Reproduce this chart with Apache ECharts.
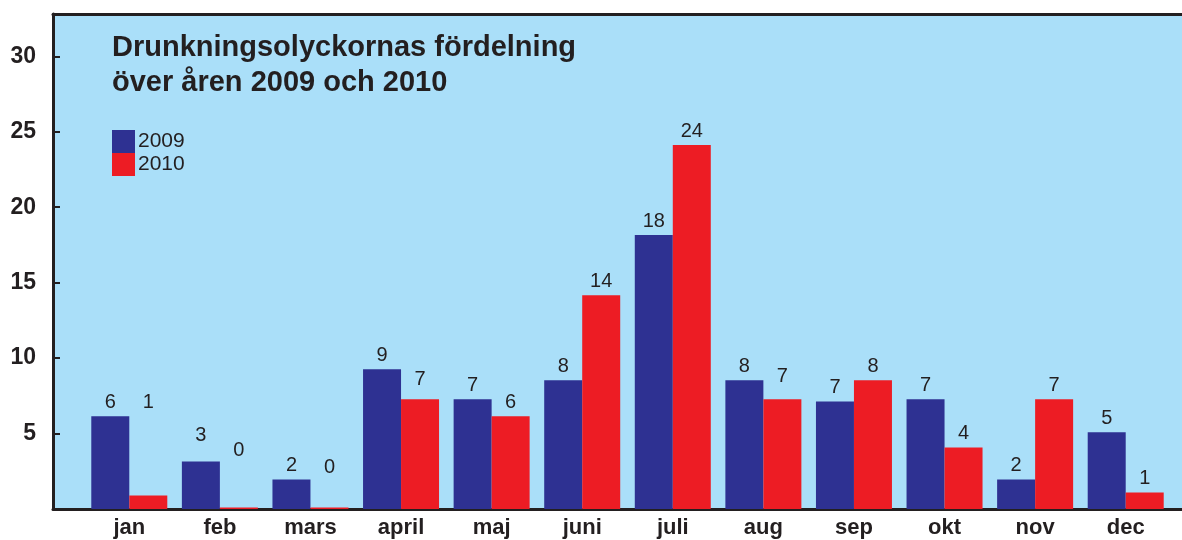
<!DOCTYPE html>
<html>
<head>
<meta charset="utf-8">
<script src="https://cdn.jsdelivr.net/npm/echarts@6/dist/echarts.min.js"></script>
<style>html,body{margin:0;padding:0;background:#fff}#c{width:1182px;height:540px}</style>
</head>
<body>
<div id="c"></div>
<script>
// ---- data ----
const months = ['jan','feb','mars','april','maj','juni','juli','aug','sep','okt','nov','dec'];
const labels2009 = [6, 3, 2, 9, 7, 8, 18, 8, 7, 7, 2, 5];
const labels2010 = [1, 0, 0, 7, 6, 14, 24, 7, 8, 4, 7, 1];
const bars2009 = [6.14, 3.15, 1.96, 9.26, 7.27, 8.53, 18.15, 8.53, 7.13, 7.27, 1.96, 5.08];
const bars2010 = [0.9, 0.1, 0.1, 7.27, 6.14, 14.17, 24.12, 7.27, 8.53, 4.08, 7.27, 1.09];
const yTicks = [5, 10, 15, 20, 25, 30];
const seriesNames = ['2009', '2010'];
const titleLines = ['Drunkningsolyckornas fördelning', 'över åren 2009 och 2010'];

// ---- styles ----
const INK = '#231f20';
const FONT = '"Liberation Sans", Arial, Helvetica, sans-serif';
const YMAX = 32.8;
const labelLift = { '2009': {1: 12}, '2010': {0: 79, 1: 43, 2: 26, 3: 6, 7: 9} };

function makeSeries(name, bars, labels, color) {
  return {
    name: name, type: 'bar', xAxisIndex: 1, yAxisIndex: 1,
    barWidth: 38, barGap: '0%',
    itemStyle: {color: color},
    data: bars.map(function (v, i) {
      const item = {value: v};
      const lift = (labelLift[name] || {})[i];
      if (lift) item.label = {offset: [0, -lift]};
      return item;
    }),
    label: {
      show: true, position: 'top', distance: 4, fontSize: 20, color: INK, fontFamily: FONT,
      formatter: function (p) { return String(labels[p.dataIndex]); }
    }
  };
}

const chart = echarts.init(document.getElementById('c'), null, {renderer: 'canvas'});
chart.setOption({
  animation: false,
  backgroundColor: '#ffffff',
  textStyle: {fontFamily: FONT},
  title: {
    text: titleLines.join('\n'), left: 107, top: 25,
    textStyle: {fontSize: 29, fontWeight: 'bold', color: INK, lineHeight: 35, fontFamily: FONT}
  },
  legend: {
    data: seriesNames, orient: 'vertical', left: 112, top: 130, padding: 0,
    itemWidth: 23, itemHeight: 23, itemGap: 0, icon: 'rect',
    textStyle: {fontSize: 21, color: INK, fontFamily: FONT, padding: [0, 0, 0, -2]}
  },
  grid: [
    {left: 53, right: 0, top: 14, bottom: 31, show: true, backgroundColor: '#aadff9', borderWidth: 0},
    {left: 84, right: 11, top: 14, bottom: 31}
  ],
  xAxis: [
    {gridIndex: 0, type: 'value', min: 0, max: 1, position: 'bottom',
     axisLine: {show: true, onZero: false, lineStyle: {color: INK, width: 3}},
     axisTick: {show: false}, axisLabel: {show: false}, splitLine: {show: false}},
    {gridIndex: 1, type: 'category', data: months,
     axisLine: {show: false}, axisTick: {show: false},
     axisLabel: {interval: 0, fontSize: 22, fontWeight: 'bold', color: INK, margin: 8, fontFamily: FONT}},
    {gridIndex: 0, type: 'value', min: 0, max: 1, position: 'top',
     axisLine: {show: true, onZero: false, lineStyle: {color: INK, width: 3}},
     axisTick: {show: false}, axisLabel: {show: false}, splitLine: {show: false}}
  ],
  yAxis: [
    {gridIndex: 0, type: 'value', min: 0, max: YMAX, interval: 5,
     axisLine: {show: true, onZero: false, lineStyle: {color: INK, width: 3}},
     axisTick: {show: true, inside: true, length: 7, lineStyle: {color: INK, width: 2}},
     axisLabel: {fontSize: 23, fontWeight: 'bold', color: INK, margin: 17, fontFamily: FONT,
                 showMaxLabel: false, showMinLabel: false,
                 formatter: function (v) { return yTicks.indexOf(v) >= 0 ? String(v) : ''; }},
     splitLine: {show: false}},
    {gridIndex: 1, type: 'value', min: 0, max: YMAX, show: false}
  ],
  series: [
    makeSeries(seriesNames[0], bars2009, labels2009, '#2e3192'),
    makeSeries(seriesNames[1], bars2010, labels2010, '#ed1c24')
  ]
});
</script>
</body>
</html>
